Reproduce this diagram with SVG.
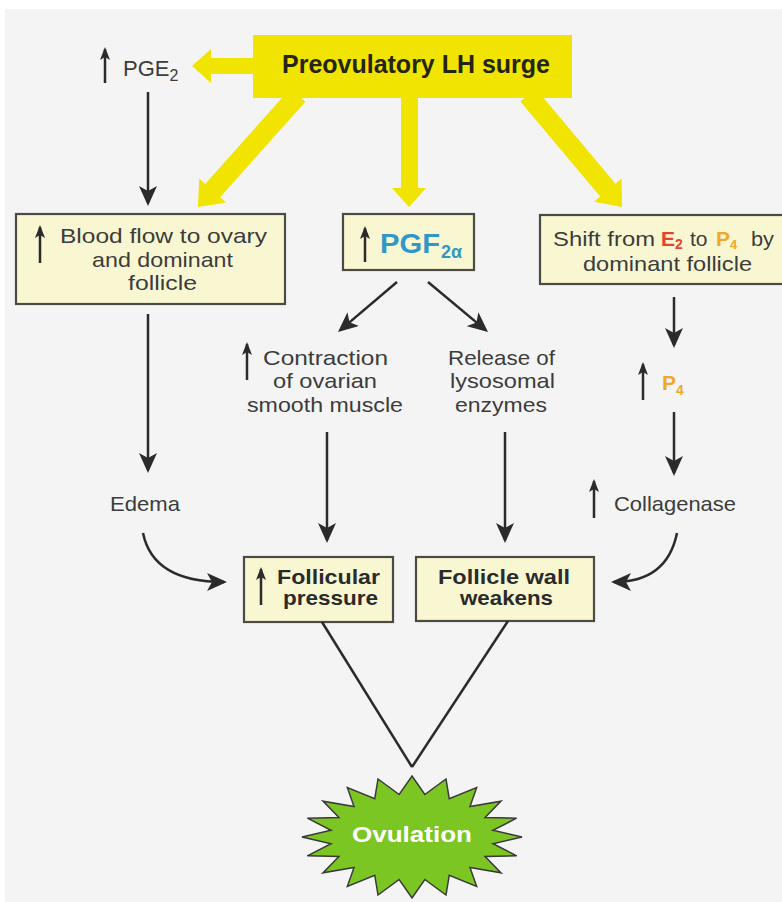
<svg xmlns="http://www.w3.org/2000/svg" width="782" height="902" viewBox="0 0 782 902">
<style>
.bg{fill:#f4f4f4}
.box{fill:#f9f7d1;stroke:#4b4b44;stroke-width:2.2}
.yl{fill:#f0e400}
.t{font-family:"Liberation Sans",Arial,sans-serif;font-size:21px;fill:#3c3c3c}
.b{font-family:"Liberation Sans",Arial,sans-serif;font-weight:bold;font-size:21px;fill:#2b2b2b}
.con{stroke:#2b2b2b;stroke-width:2.5;fill:none}
.up{stroke:#2b2b2b;stroke-width:2.5;fill:none}
</style>
<defs>
<marker id="ah" markerUnits="userSpaceOnUse" markerWidth="22" markerHeight="18" refX="17" refY="9" orient="auto">
<path d="M0,0 L20,9 L0,18 L5,9 z" fill="#2b2b2b"/>
</marker>
<marker id="uh" markerUnits="userSpaceOnUse" markerWidth="14" markerHeight="10" refX="11" refY="5" orient="auto">
<path d="M0,0 L13,5 L0,10 L3,5 z" fill="#2b2b2b"/>
</marker>
</defs>
<rect width="782" height="902" fill="#ffffff"/>
<rect class="bg" x="5" y="9" width="777" height="893"/>

<g id="yellow-arrows">
<polygon class="yl" points="262,58 211,58 211,49 192,66 211,83 211,74 262,74"/>
<polygon class="yl" points="401,95 418,95 418,188 426,188 409,207 392,188 401,188"/>
<polygon class="yl" points="305.46,101.66 220.11,197.25 226.08,202.58 198,207 199.22,178.60 205.19,183.93 290.54,88.34"/>
<polygon class="yl" points="535.66,88.57 615.51,183.72 621.64,178.58 622,207 594.06,201.72 600.19,196.58 520.34,101.43"/>
</g>

<g id="lh-surge">
<rect class="yl" x="253" y="35" width="319" height="63"/>
<text class="b" x="282" y="73" style="font-size:25px;fill:#252515" textLength="268" lengthAdjust="spacingAndGlyphs">Preovulatory LH surge</text>
</g>

<g id="pge2">
<line class="up" x1="105" y1="83" x2="105" y2="49" marker-end="url(#uh)"/>
<text class="t" x="123" y="76" style="font-size:22px">PGE<tspan dy="5" style="font-size:16px">2</tspan></text>
</g>

<g id="blood-flow">
<rect class="box" x="16" y="214" width="269" height="90"/>
<line class="up" x1="40" y1="263" x2="40" y2="227" marker-end="url(#uh)"/>
<text class="t" x="60" y="243" textLength="207" lengthAdjust="spacingAndGlyphs">Blood flow to ovary</text>
<text class="t" x="92" y="267" textLength="141" lengthAdjust="spacingAndGlyphs">and dominant</text>
<text class="t" x="128" y="290" textLength="69" lengthAdjust="spacingAndGlyphs">follicle</text>
</g>

<g id="pgf2a">
<rect class="box" x="343" y="214" width="131" height="56"/>
<line class="up" x1="365" y1="262" x2="365" y2="228" marker-end="url(#uh)"/>
<text class="b" x="380" y="253" style="font-size:27px;fill:#2f98c9"><tspan textLength="60" lengthAdjust="spacingAndGlyphs">PGF</tspan><tspan x="441" dy="5" style="font-size:18px">2α</tspan></text>
</g>

<g id="shift">
<rect class="box" x="540" y="215" width="260" height="69"/>
<text class="t" y="246"><tspan x="553" textLength="102" lengthAdjust="spacingAndGlyphs">Shift from</tspan><tspan x="661" style="font-weight:bold;fill:#e6432c">E</tspan><tspan dy="3" style="font-weight:bold;font-size:14px;fill:#e6432c">2</tspan><tspan x="690" y="246">to</tspan><tspan x="716" style="font-weight:bold;fill:#eea82a">P</tspan><tspan dy="3" style="font-weight:bold;font-size:13px;fill:#eea82a">4</tspan><tspan x="751" y="246" textLength="23" lengthAdjust="spacingAndGlyphs">by</tspan></text>
<text class="t" x="583" y="271" textLength="169" lengthAdjust="spacingAndGlyphs">dominant follicle</text>
</g>

<g id="contraction">
<line class="up" x1="247" y1="380" x2="247" y2="344" marker-end="url(#uh)"/>
<text class="t" x="263" y="365" textLength="125" lengthAdjust="spacingAndGlyphs">Contraction</text>
<text class="t" x="273" y="388" textLength="104" lengthAdjust="spacingAndGlyphs">of ovarian</text>
<text class="t" x="247" y="412" textLength="156" lengthAdjust="spacingAndGlyphs">smooth muscle</text>
</g>

<g id="release">
<text class="t" x="448" y="365" textLength="107" lengthAdjust="spacingAndGlyphs">Release of</text>
<text class="t" x="450" y="388" textLength="105" lengthAdjust="spacingAndGlyphs">lysosomal</text>
<text class="t" x="455" y="412" textLength="92" lengthAdjust="spacingAndGlyphs">enzymes</text>
</g>

<g id="p4">
<line class="up" x1="643" y1="400" x2="643" y2="364" marker-end="url(#uh)"/>
<text class="b" x="662" y="390" style="fill:#eea82a">P<tspan dy="5" style="font-size:14px">4</tspan></text>
</g>

<g id="edema">
<text class="t" x="110" y="511" textLength="70" lengthAdjust="spacingAndGlyphs">Edema</text>
</g>

<g id="collagenase">
<line class="up" x1="594" y1="518" x2="594" y2="481" marker-end="url(#uh)"/>
<text class="t" x="614" y="511" textLength="122" lengthAdjust="spacingAndGlyphs">Collagenase</text>
</g>

<g id="follicular-pressure">
<rect class="box" x="244" y="557" width="149" height="65"/>
<line class="up" x1="261" y1="605" x2="261" y2="569" marker-end="url(#uh)"/>
<text class="b" x="277" y="584" textLength="103" lengthAdjust="spacingAndGlyphs">Follicular</text>
<text class="b" x="283" y="605" textLength="95" lengthAdjust="spacingAndGlyphs">pressure</text>
</g>

<g id="follicle-wall">
<rect class="box" x="416" y="557" width="178" height="64"/>
<text class="b" x="438" y="584" textLength="132" lengthAdjust="spacingAndGlyphs">Follicle wall</text>
<text class="b" x="460" y="605" textLength="93" lengthAdjust="spacingAndGlyphs">weakens</text>
</g>

<g id="connectors">
<line class="con" x1="148" y1="92" x2="148" y2="203" marker-end="url(#ah)"/>
<line class="con" x1="148" y1="314" x2="148" y2="470" marker-end="url(#ah)"/>
<line class="con" x1="397" y1="282" x2="340.3" y2="330.1" marker-end="url(#ah)"/>
<line class="con" x1="428" y1="282" x2="485.7" y2="330.1" marker-end="url(#ah)"/>
<line class="con" x1="327" y1="432" x2="327" y2="540" marker-end="url(#ah)"/>
<line class="con" x1="505" y1="432" x2="505" y2="540" marker-end="url(#ah)"/>
<line class="con" x1="674" y1="297" x2="674" y2="345" marker-end="url(#ah)"/>
<line class="con" x1="674" y1="412" x2="674" y2="473" marker-end="url(#ah)"/>
<path class="con" d="M143,533 Q153,582 224,582" marker-end="url(#ah)"/>
<path class="con" d="M677,533 Q667,582 614,582" marker-end="url(#ah)"/>
<line class="con" x1="322" y1="622" x2="412" y2="767"/>
<line class="con" x1="508" y1="621" x2="412" y2="767"/>
</g>

<g id="ovulation">
<polygon fill="#7cc623" stroke="#3a3a3a" stroke-width="1.5" points="412,776 424.83,794.53 445.99,778.98 449.23,798.69 476.66,787.65 469.98,806.59 500.99,801.14 485.06,817.48 516.62,818.15 492.99,830.27 522,837 492.99,843.73 516.62,855.85 485.06,856.52 500.99,872.86 469.98,867.41 476.66,886.35 449.23,875.31 445.99,895.02 424.83,879.47 412,898 399.17,879.47 378.01,895.02 374.77,875.31 347.34,886.35 354.02,867.41 323.01,872.86 338.94,856.52 307.38,855.85 331.01,843.73 302,837 331.01,830.27 307.38,818.15 338.94,817.48 323.01,801.14 354.02,806.59 347.34,787.65 374.77,798.69 378.01,778.98 399.17,794.53"/>
<text class="b" x="352" y="842" style="font-size:22px;fill:#ffffff" textLength="120" lengthAdjust="spacingAndGlyphs">Ovulation</text>
</g>
</svg>
